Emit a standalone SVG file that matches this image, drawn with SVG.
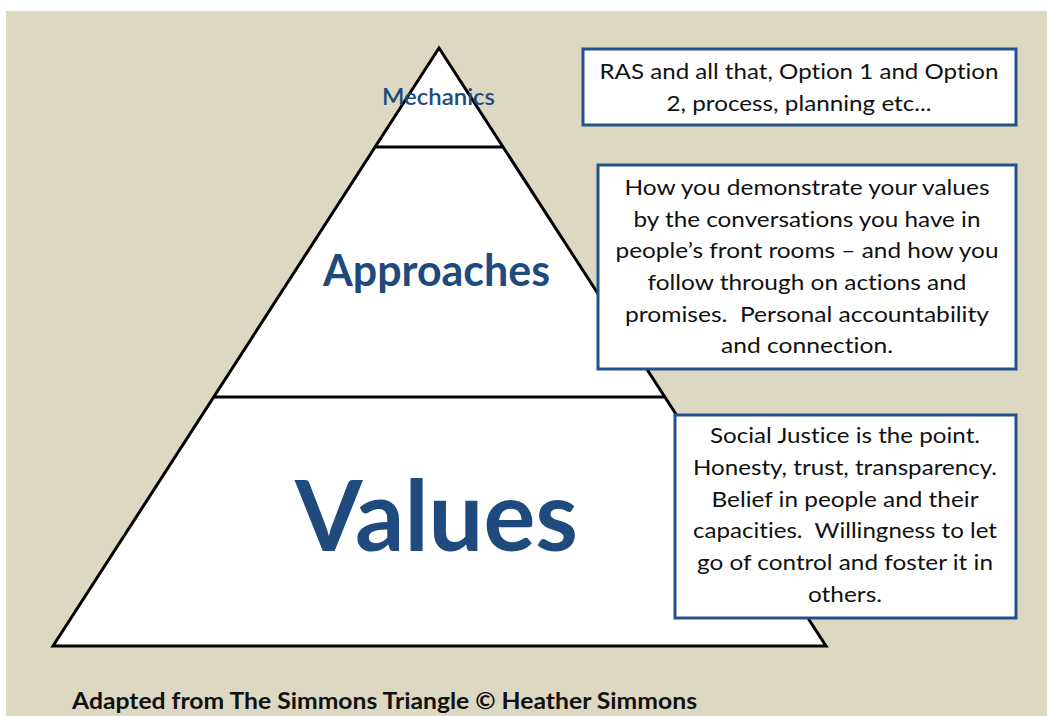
<svg xmlns="http://www.w3.org/2000/svg" width="1047" height="716" viewBox="0 0 1047 716">
<style>
text{font-variant-ligatures:none}
.bg{fill:#DDD8C2}
.tri{fill:#fff;stroke:#000;stroke-width:3;stroke-linejoin:miter}
.div{stroke:#000;stroke-width:3}
.box{fill:#fff;stroke:#24518E;stroke-width:3}
.bt{font-family:Lato,"Open Sans",sans-serif;font-size:22px;fill:#111;text-anchor:middle}
.lbl{font-family:Lato,"Open Sans",sans-serif;fill:#1F4A7E;text-anchor:middle}
.foot{font-family:Lato,"Open Sans",sans-serif;font-size:22px;font-weight:bold;fill:#111}
</style>
<rect class="bg" x="6" y="11" width="1041" height="705"/>
<g id="pyramid">
<polygon class="tri" points="439,48 826,646 53,646"/>
<line class="div" x1="375" y1="147" x2="503" y2="147"/>
<line class="div" x1="214" y1="397" x2="664" y2="397"/>
</g>
<g id="mechanics">
<text class="lbl" x="438.5" y="105" font-size="23" font-weight="600" textLength="113" lengthAdjust="spacingAndGlyphs">Mechanics</text>
</g>
<g id="approaches">
<text class="lbl" x="436.5" y="286" font-size="44" font-weight="bold" textLength="227" lengthAdjust="spacingAndGlyphs">Approaches</text>
</g>
<g id="values">
<text class="lbl" x="436.5" y="551" font-size="98" font-weight="bold" textLength="283" lengthAdjust="spacingAndGlyphs">Values</text>
</g>
<g id="box-mechanics">
<rect class="box" x="583" y="49" width="433" height="76"/>
<text class="bt" x="799" y="79" textLength="399" lengthAdjust="spacingAndGlyphs">RAS and all that, Option 1 and Option</text>
<text class="bt" x="799" y="111" textLength="265" lengthAdjust="spacingAndGlyphs">2, process, planning etc...</text>
</g>
<g id="box-approaches">
<rect class="box" x="598" y="165" width="418" height="204"/>
<text class="bt" x="807" y="195" textLength="365" lengthAdjust="spacingAndGlyphs">How you demonstrate your values</text>
<text class="bt" x="807" y="227" textLength="347" lengthAdjust="spacingAndGlyphs">by the conversations you have in</text>
<text class="bt" x="807" y="258" textLength="383" lengthAdjust="spacingAndGlyphs">people’s front rooms – and how you</text>
<text class="bt" x="807" y="290" textLength="319" lengthAdjust="spacingAndGlyphs">follow through on actions and</text>
<text class="bt" x="807" y="322" textLength="364" lengthAdjust="spacingAndGlyphs" xml:space="preserve">promises.  Personal accountability</text>
<text class="bt" x="807" y="353" textLength="172" lengthAdjust="spacingAndGlyphs">and connection.</text>
</g>
<g id="box-values">
<rect class="box" x="675" y="415" width="341" height="203"/>
<text class="bt" x="845" y="443" textLength="270" lengthAdjust="spacingAndGlyphs">Social Justice is the point.</text>
<text class="bt" x="845" y="475" textLength="304" lengthAdjust="spacingAndGlyphs">Honesty, trust, transparency.</text>
<text class="bt" x="845" y="507" textLength="267" lengthAdjust="spacingAndGlyphs">Belief in people and their</text>
<text class="bt" x="845" y="538" textLength="304" lengthAdjust="spacingAndGlyphs" xml:space="preserve">capacities.  Willingness to let</text>
<text class="bt" x="845" y="570" textLength="296" lengthAdjust="spacingAndGlyphs">go of control and foster it in</text>
<text class="bt" x="845" y="602" textLength="74" lengthAdjust="spacingAndGlyphs">others.</text>
</g>
<g id="connectors"></g>
<g id="footer">
<text class="foot" x="72" y="709" textLength="625" lengthAdjust="spacingAndGlyphs">Adapted from The Simmons Triangle © Heather Simmons</text>
</g>
</svg>
